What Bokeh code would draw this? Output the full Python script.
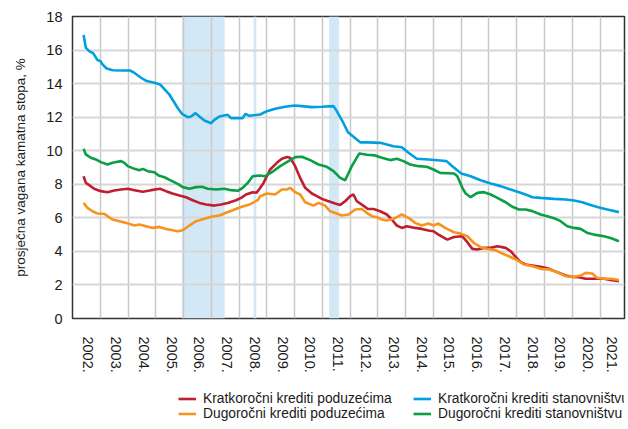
from bokeh.plotting import figure
from bokeh.models import (Range1d, FixedTicker, BoxAnnotation, Legend, LegendItem)
from bokeh.layouts import column
from bokeh.embed import file_html
from bokeh.resources import INLINE

# ---- data (decimal year, interest rate %) ----
blue_x = [2002.40, 2002.48, 2002.60, 2002.75, 2002.90, 2003.00, 2003.08, 2003.23, 2003.45, 2003.80,
          2004.07, 2004.22, 2004.47, 2004.67, 2004.95, 2005.15, 2005.27, 2005.49, 2005.60, 2005.79,
          2005.94, 2006.15, 2006.27, 2006.43, 2006.57, 2006.75, 2006.99, 2007.11, 2007.29, 2007.59,
          2007.71, 2008.13, 2008.23, 2008.37, 2008.76, 2009.00, 2009.30, 2009.66, 2010.00, 2010.26,
          2010.62, 2010.98, 2011.40, 2011.52, 2011.72, 2011.92, 2012.12, 2012.36, 2012.66, 2013.08,
          2013.32, 2013.56, 2013.86, 2014.10, 2014.40, 2014.82, 2015.25, 2015.47, 2015.68, 2016.00,
          2016.34, 2016.70, 2017.06, 2017.42, 2017.78, 2018.08, 2018.32, 2018.56, 2018.86, 2019.34,
          2019.76, 2020.06, 2020.36, 2020.60, 2020.90, 2021.26, 2021.68]
blue_y = [16.9, 16.14, 15.94, 15.8, 15.4, 15.35, 15.15, 14.9, 14.8, 14.78,
          14.78, 14.65, 14.35, 14.15, 14.05, 13.95, 13.75, 13.35, 13.05, 12.55,
          12.2, 12.0, 12.04, 12.24, 12.04, 11.8, 11.64, 11.84, 12.04, 12.14,
          11.94, 11.94, 12.2, 12.08, 12.16, 12.36, 12.5, 12.62, 12.7, 12.66,
          12.6, 12.62, 12.66, 12.36, 11.77, 11.1, 10.83, 10.5, 10.5, 10.47,
          10.37, 10.27, 10.21, 9.88, 9.52, 9.48, 9.42, 9.38, 9.08, 8.64,
          8.48, 8.24, 8.05, 7.89, 7.69, 7.53, 7.39, 7.23, 7.19, 7.13,
          7.09, 7.03, 6.93, 6.8, 6.64, 6.5, 6.34]

green_x = [2002.40, 2002.48, 2002.66, 2002.84, 2003.02, 2003.26, 2003.44, 2003.75, 2003.87, 2003.99,
           2004.23, 2004.41, 2004.53, 2004.71, 2004.95, 2005.10, 2005.31, 2005.55, 2005.79, 2005.97,
           2006.21, 2006.45, 2006.67, 2006.87, 2007.17, 2007.47, 2007.71, 2007.95, 2008.13, 2008.31,
           2008.49, 2008.73, 2008.94, 2009.18, 2009.48, 2009.78, 2010.02, 2010.26, 2010.56, 2010.86,
           2011.16, 2011.40, 2011.64, 2011.82, 2012.06, 2012.33, 2012.60, 2012.90, 2013.14, 2013.44,
           2013.68, 2013.92, 2014.16, 2014.46, 2014.76, 2015.00, 2015.24, 2015.74, 2015.86, 2016.04,
           2016.16, 2016.34, 2016.58, 2016.82, 2017.06, 2017.30, 2017.60, 2017.84, 2018.08, 2018.32,
           2018.56, 2018.86, 2019.10, 2019.40, 2019.58, 2019.82, 2020.06, 2020.30, 2020.54, 2020.78,
           2021.14, 2021.38, 2021.68]
green_y = [10.12, 9.78, 9.58, 9.48, 9.32, 9.18, 9.28, 9.38, 9.28, 9.08,
           8.92, 8.84, 8.92, 8.78, 8.72, 8.52, 8.42, 8.22, 8.02, 7.83,
           7.73, 7.83, 7.85, 7.73, 7.69, 7.73, 7.65, 7.61, 7.79, 8.08,
           8.48, 8.52, 8.48, 8.72, 9.08, 9.38, 9.62, 9.64, 9.44, 9.18,
           9.04, 8.78, 8.38, 8.24, 9.08, 9.84, 9.76, 9.72, 9.58, 9.44,
           9.52, 9.38, 9.18, 9.08, 9.04, 8.88, 8.68, 8.64, 8.48, 7.79,
           7.45, 7.23, 7.49, 7.53, 7.39, 7.19, 6.93, 6.66, 6.5, 6.5,
           6.4, 6.2, 6.1, 5.94, 5.8, 5.5, 5.4, 5.34, 5.1, 5.0,
           4.9, 4.8, 4.6]

red_x = [2002.40, 2002.48, 2002.60, 2002.78, 2003.02, 2003.26, 2003.50, 2003.75, 2003.99, 2004.23,
         2004.53, 2004.83, 2005.15, 2005.37, 2005.60, 2005.85, 2006.09, 2006.33, 2006.57, 2006.81,
         2007.11, 2007.35, 2007.59, 2007.89, 2008.07, 2008.25, 2008.49, 2008.62, 2008.72, 2008.88,
         2009.12, 2009.36, 2009.54, 2009.72, 2009.84, 2010.02, 2010.20, 2010.38, 2010.62, 2010.80,
         2010.98, 2011.22, 2011.46, 2011.64, 2011.82, 2012.00, 2012.12, 2012.24, 2012.42, 2012.64,
         2012.84, 2013.08, 2013.32, 2013.50, 2013.68, 2013.86, 2014.04, 2014.34, 2014.58, 2014.82,
         2015.00, 2015.18, 2015.50, 2015.74, 2016.04, 2016.22, 2016.40, 2016.58, 2016.82, 2017.06,
         2017.30, 2017.60, 2017.78, 2017.96, 2018.14, 2018.32, 2018.56, 2018.86, 2019.16, 2019.46,
         2019.76, 2020.00, 2020.24, 2020.48, 2020.78, 2021.14, 2021.38, 2021.68]
red_y = [8.48, 8.08, 7.95, 7.73, 7.59, 7.53, 7.63, 7.69, 7.73, 7.65,
         7.55, 7.65, 7.73, 7.59, 7.45, 7.33, 7.23, 7.05, 6.89, 6.79,
         6.73, 6.79, 6.89, 7.05, 7.19, 7.39, 7.53, 7.49, 7.69, 8.08,
         8.88, 9.28, 9.52, 9.62, 9.58, 9.08, 8.38, 7.79, 7.45, 7.29,
         7.13, 6.99, 6.85, 6.77, 6.99, 7.29, 7.39, 6.99, 6.79, 6.53,
         6.53, 6.39, 6.2, 5.9, 5.54, 5.4, 5.5, 5.4, 5.34, 5.24,
         5.2, 5.0, 4.7, 4.86, 4.9, 4.55, 4.15, 4.11, 4.21, 4.21,
         4.31, 4.21, 4.01, 3.67, 3.36, 3.22, 3.16, 3.08, 2.96, 2.76,
         2.56, 2.48, 2.46, 2.37, 2.37, 2.37, 2.29, 2.22]

orange_x = [2002.40, 2002.54, 2002.72, 2002.90, 2003.14, 2003.26, 2003.44, 2003.69, 2003.93, 2004.23,
            2004.41, 2004.65, 2004.89, 2005.13, 2005.37, 2005.61, 2005.79, 2005.97, 2006.21, 2006.45,
            2006.75, 2006.99, 2007.29, 2007.53, 2007.77, 2008.07, 2008.37, 2008.67, 2008.76, 2009.00,
            2009.30, 2009.54, 2009.72, 2009.84, 2010.02, 2010.20, 2010.38, 2010.68, 2010.86, 2011.10,
            2011.28, 2011.52, 2011.70, 2011.94, 2012.18, 2012.42, 2012.60, 2012.78, 2012.96, 2013.14,
            2013.32, 2013.56, 2013.86, 2014.10, 2014.34, 2014.58, 2014.82, 2015.00, 2015.18, 2015.42,
            2015.74, 2015.98, 2016.22, 2016.46, 2016.70, 2016.94, 2017.24, 2017.48, 2017.72, 2018.02,
            2018.26, 2018.56, 2018.86, 2019.16, 2019.46, 2019.76, 2020.06, 2020.30, 2020.48, 2020.72,
            2020.90, 2021.14, 2021.38, 2021.68]
orange_y = [6.89, 6.59, 6.39, 6.26, 6.24, 6.1, 5.9, 5.8, 5.7, 5.54,
            5.6, 5.5, 5.4, 5.46, 5.34, 5.26, 5.2, 5.26, 5.54, 5.8,
            5.94, 6.06, 6.14, 6.3, 6.45, 6.65, 6.79, 7.05, 7.29, 7.45,
            7.39, 7.69, 7.69, 7.79, 7.53, 7.39, 6.93, 6.73, 6.89, 6.73,
            6.39, 6.26, 6.14, 6.2, 6.5, 6.53, 6.3, 6.1, 6.04, 5.9,
            5.84, 5.94, 6.2, 6.0, 5.7, 5.54, 5.66, 5.54, 5.66, 5.4,
            5.14, 5.06, 4.9, 4.5, 4.25, 4.15, 4.07, 3.87, 3.71, 3.47,
            3.22, 3.12, 2.96, 2.92, 2.76, 2.52, 2.48, 2.56, 2.72, 2.68,
            2.42, 2.37, 2.37, 2.29]

# shaded periods (start, end) in decimal years
shade_start = [2005.94, 2008.52, 2011.24]
shade_end = [2007.48, 2008.62, 2011.60]

years = list(range(2002, 2022))
year_labels = [f"{y}." for y in years]
y_ticks = list(range(0, 19, 2))

names = ["Kratkoročni krediti poduzećima", "Dugoročni krediti poduzećima",
         "Kratkoročni krediti stanovništvu", "Dugoročni krediti stanovništvu"]
colors = ["#be1e2d", "#f7941d", "#00a0e0", "#0a9e45"]
series = [(red_x, red_y), (orange_x, orange_y), (blue_x, blue_y), (green_x, green_y)]

FONT = "Liberation Sans"

# ---------------- main chart ----------------
p = figure(frame_width=552, frame_height=302, output_backend="svg", toolbar_location=None,
           x_range=Range1d(2002, 2021.88), y_range=Range1d(0, 18),
           min_border_left=72, min_border_right=3, min_border_top=16, min_border_bottom=56)
p.background_fill_color = "white"
p.border_fill_color = "white"
p.outline_line_color = "#333333"
p.outline_line_width = 1.5

for s, e in zip(shade_start, shade_end):
    p.add_layout(BoxAnnotation(left=s, right=e, fill_color="#d3e8f7", fill_alpha=1.0,
                               line_color=None, level="image"))

p.xgrid.ticker = FixedTicker(ticks=years[1:])
p.xgrid.grid_line_color = "#c8c8c8"
p.xgrid.grid_line_width = 1.5
p.ygrid.ticker = FixedTicker(ticks=y_ticks)
p.ygrid.grid_line_color = "#d6d6d6"
p.ygrid.grid_line_width = 2

tick_pos = [y + 0.57 for y in years[:-1]] + [2021.42]
p.xaxis.ticker = FixedTicker(ticks=tick_pos)
p.xaxis.major_label_overrides = {t: l for t, l in zip(tick_pos, year_labels)}
p.xaxis.major_label_orientation = "vertical"
p.yaxis.ticker = FixedTicker(ticks=y_ticks)
for ax in (p.xaxis[0], p.yaxis[0]):
    ax.axis_line_color = None
    ax.major_tick_line_color = None
    ax.minor_tick_line_color = None
    ax.major_tick_out = 0
    ax.major_tick_in = 0
    ax.major_label_text_font = FONT
    ax.major_label_text_font_size = "14.5px"
    ax.major_label_text_color = "#1a1a1a"
p.xaxis.major_label_standoff = 18
p.yaxis.major_label_standoff = 10
p.yaxis.axis_label = "prosječna vagana kamatna stopa, %"
p.yaxis.axis_label_text_font = FONT
p.yaxis.axis_label_text_font_style = "normal"
p.yaxis.axis_label_text_font_size = "13.5px"
p.yaxis.axis_label_text_color = "#1a1a1a"
p.yaxis.axis_label_standoff = 15

for (xs, ys), c in zip(series, colors):
    p.line(xs, ys, line_color=c, line_width=2.6)

# ---------------- legend strip below the chart ----------------
lg = figure(width=627, height=50, output_backend="svg", toolbar_location=None,
            x_range=Range1d(0, 1), y_range=Range1d(0, 1),
            min_border_left=0, min_border_right=0, min_border_top=0, min_border_bottom=0,
            x_axis_type=None, y_axis_type=None)
lg.outline_line_color = None
lg.background_fill_color = "white"
lg.border_fill_color = "white"
lg.xgrid.visible = False
lg.ygrid.visible = False

lg_rends = [lg.line(xs, ys, line_color=c, line_width=2.6) for (xs, ys), c in zip(series, colors)]

def add_legend(idx, xoff):
    leg = Legend(items=[LegendItem(label=names[i], renderers=[lg_rends[i]]) for i in idx],
                 location=(xoff, 4.5), orientation="vertical",
                 label_text_font=FONT, label_text_font_size="13.8px", label_text_color="#1a1a1a",
                 glyph_width=18, glyph_height=15, label_height=15,
                 label_standoff=7, spacing=0, padding=0, margin=0,
                 border_line_color=None, background_fill_alpha=0)
    lg.add_layout(leg, "center")

add_legend([0, 1], 106)
add_legend([2, 3], 341)

open("out.html", "w").write(file_html(column(p, lg), INLINE))
